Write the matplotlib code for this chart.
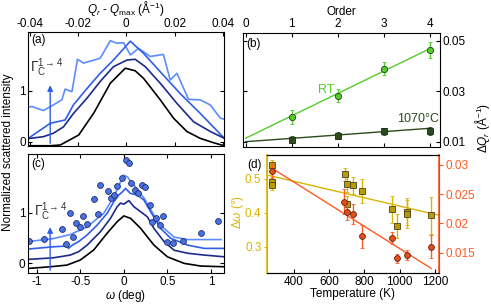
import matplotlib
matplotlib.use("Agg")
import matplotlib.pyplot as plt
import numpy as np

plt.rcParams['font.family'] = ['Liberation Sans', 'DejaVu Sans']
plt.rcParams['mathtext.fontset'] = 'custom'
plt.rcParams['mathtext.rm'] = 'Liberation Sans'
plt.rcParams['mathtext.it'] = 'Liberation Sans:italic'
plt.rcParams['font.size'] = 8.5

# ---- panel (a): rocking curves vs Qr - Qmax
qa_black = [-0.0405, -0.0315, -0.0273, -0.0197, -0.0135, -0.0066, -0.0004, 0.0037,
            0.0072, 0.0141, 0.0196, 0.0251, 0.0306, 0.0361, 0.0406]
ia_black = [-0.08, -0.08, -0.065, 0.13, 0.557, 1.145, 1.44, 1.39,
            1.24, 0.82, 0.46, 0.2, 0.066, -0.02, -0.08]
qa_navy = [-0.0405, -0.0343, -0.0302, -0.026, -0.0218, -0.0163, -0.0108, -0.0053,
           0.0003, 0.0037, 0.0079, 0.0141, 0.021, 0.0279, 0.0348, 0.0406]
ia_navy = [0.06, 0.098, 0.165, 0.29, 0.557, 0.85, 1.18, 1.47,
           1.6, 1.615, 1.47, 1.145, 0.75, 0.39, 0.2, 0.067]
qa_blue = [-0.0405, -0.0315, -0.0253, -0.0219, -0.0163, -0.0108, -0.0053, 0.0017,
           0.0072, 0.0141, 0.0224, 0.0306, 0.0406]
ia_blue = [0.067, 0.36, 0.425, 0.72, 1.04, 1.34, 1.60, 1.97,
           1.73, 1.37, 0.94, 0.557, 0.067]
qa_light = [-0.0405, -0.0391, -0.0343, -0.0302, -0.0267, -0.0253, -0.0225, -0.0202,
            -0.0177, -0.0108, -0.0066, -0.0039, -0.0011, 0.0017, 0.0051, 0.0099,
            0.0154, 0.0182, 0.021, 0.0258, 0.0306, 0.0348, 0.039, 0.0406]
ia_light = [0.675, 0.69, 0.61, 0.72, 0.818, 1.03, 0.98, 1.615,
            1.54, 1.635, 1.98, 1.93, 1.94, 1.70, 1.83, 1.67,
            1.71, 1.21, 1.34, 0.83, 0.82, 0.72, 0.46, 0.44]

# ---- panel (c): rocking curves vs omega
wc_black = [-1.096, -0.846, -0.653, -0.5, -0.346, -0.192, -0.076, 0.0, 0.077,
            0.193, 0.346, 0.5, 0.692, 0.885, 1.162]
ic_black = [-0.1, -0.067, -0.034, 0.066, 0.264, 0.595, 0.824, 0.937, 0.89,
            0.692, 0.36, 0.13, 0.0, -0.053, -0.067]
wc_navy = [-1.096, -0.808, -0.615, -0.519, -0.422, -0.269, -0.153, -0.076, -0.038,
           0.0, 0.058, 0.115, 0.193, 0.27, 0.346, 0.462, 0.577, 0.732, 0.923, 1.154]
ic_navy = [0.079, 0.11, 0.164, 0.23, 0.36, 0.624, 0.89, 1.12, 1.19,
           1.17, 1.24, 1.12, 1.02, 0.92, 0.69, 0.43, 0.26, 0.2, 0.164, 0.13]
wc_blue = [-1.096, -0.808, -0.653, -0.635, -0.592, -0.519, -0.422, -0.307, -0.192,
           -0.115, -0.058, -0.018, 0.02, 0.077, 0.155, 0.231, 0.308, 0.423, 0.539,
           0.732, 0.923, 1.154]
ic_blue = [0.283, 0.328, 0.342, 0.296, 0.36, 0.43, 0.56, 0.755, 0.988,
           1.217, 1.35, 1.41, 1.48, 1.38, 1.35, 1.25, 1.02, 0.69, 0.494,
           0.36, 0.296, 0.296]
wc_light = [-1.096, -0.808, -0.615, -0.422, -0.231, -0.115, -0.038, 0.0, 0.039,
            0.115, 0.231, 0.346, 0.462, 0.577, 0.732, 1.116]
ic_light = [0.43, 0.49, 0.57, 0.72, 0.988, 1.317, 1.61, 1.74, 1.71,
            1.55, 1.29, 0.95, 0.69, 0.52, 0.47, 0.47]
wc_dots = [-1.085, -0.911, -0.711, -0.661, -0.623, -0.584, -0.546, -0.508, -0.469,
           -0.423, -0.346, -0.3, -0.269, -0.185, -0.146, -0.108, -0.077, -0.019,
           0.02, 0.058, 0.085, 0.124, 0.162, 0.208, 0.247, 0.297, 0.327, 0.374,
           0.412, 0.45, 0.493, 0.57, 0.685, 0.885, 1.078]
ic_dots = [0.447, 0.487, 0.678, 0.388, 1.0, 0.514, 0.803, 0.724, 0.941,
           0.771, 1.27, 0.974, 1.547, 1.435, 1.30, 1.36, 1.528, 1.68,
           2.04, 1.976, 1.594, 1.449, 1.383, 1.547, 1.5, 1.146, 0.81, 0.895,
           0.763, 0.941, 0.415, 0.395, 0.447, 0.605, 0.836]

# ---- panel (b): width vs order
order = [1, 2, 3, 4]
dq_rt = [0.0197, 0.0282, 0.0389, 0.0463]
dq_rt_err = [0.0028, 0.0025, 0.0025, 0.003]
dq_hot = [0.0108, 0.0124, 0.0141, 0.0143]
dq_hot_err = [0.0015, 0.0015, 0.0015, 0.0017]
fit_order = [0, 4]
fit_rt = [0.0114, 0.0468]
fit_hot = [0.0100, 0.0153]

# ---- panel (d): widths vs temperature
temp_w = [277, 277, 277, 690, 703, 703, 737, 785, 955, 985, 1044, 1044, 1178]
dw = [0.539, 0.49, 0.482, 0.512, 0.485, 0.424, 0.48, 0.463, 0.41, 0.36, 0.403, 0.396, 0.392]
dw_err = [0.015, 0.015, 0.015, 0.02, 0.025, 0.025, 0.025, 0.035, 0.04, 0.035, 0.04, 0.04, 0.055]
temp_q = [277, 686, 701, 737, 785, 955, 985, 1044, 1178]
dqt = [0.0289, 0.0237, 0.022, 0.0216, 0.0178, 0.0175, 0.014, 0.0146, 0.016]
dqt_err = [0.0012, 0.0021, 0.0015, 0.0017, 0.002, 0.001, 0.0008, 0.0008, 0.002]
fit_tw = [250, 1225]
fit_dw = [0.51, 0.392]
fit_tq = [277, 1178]
fit_dq = [0.0294, 0.0123]

c_black, c_navy, c_blue, c_light = 'black', '#1c2a8c', '#2f5ee8', '#5d8cff'
c_green, c_dkgreen = '#55cc2e', '#2b4a1d'
c_yellow, c_orange = '#d9b400', '#ff5a22'

W, H = 491, 305
fig = plt.figure(figsize=(W / 100, H / 100), dpi=100)


def rect(x0, y0, x1, y1):
    return [x0 / W, 1 - y1 / H, (x1 - x0) / W, (y1 - y0) / H]


ax_a = fig.add_axes(rect(28, 32, 224, 146))
ax_c = fig.add_axes(rect(28, 154, 224, 273))
ax_b = fig.add_axes(rect(243, 33, 440, 147))
ax_d = fig.add_axes(rect(267, 155, 439, 273))

# (a)
for q, i, c in [(qa_light, ia_light, c_light), (qa_blue, ia_blue, c_blue),
                (qa_navy, ia_navy, c_navy), (qa_black, ia_black, c_black)]:
    ax_a.plot(q, i, color=c, lw=1.2)
ax_a.set_xlim(-0.0407, 0.0405)
ax_a.set_ylim(-0.085, 2.15)
ax_a.set_xticks([-0.04, -0.02, 0, 0.02, 0.04])
ax_a.set_xticklabels(['-0.04', '-0.02', '0', '0.02', '0.04'])
ax_a.set_yticks([0, 1])
ax_a.tick_params(direction='in', top=True, right=True, labeltop=True, labelbottom=False,
                 length=3, pad=1.5)
fig.text(126 / W, 1 - 9 / H, r'$Q_r$ - $Q_\mathrm{max}$ (Å$^{-1}$)', ha='center', va='center')
ax_a.annotate('', xy=(-0.0315, 1.16), xytext=(-0.0315, -0.085),
              arrowprops=dict(arrowstyle='-|>', color=c_blue, lw=1, mutation_scale=8))
ax_a.text(-0.0332, 1.22, r'$\Gamma_\mathrm{C}^{1\rightarrow4}$', color='#333333',
          fontsize=10, ha='center', va='bottom')
ax_a.text(0.015, 0.93, '(a)', transform=ax_a.transAxes, va='center')

# (c)
for w, i, c in [(wc_light, ic_light, c_light), (wc_blue, ic_blue, c_blue),
                (wc_navy, ic_navy, c_navy), (wc_black, ic_black, c_black)]:
    ax_c.plot(w, i, color=c, lw=1.2)
ax_c.plot(wc_dots, ic_dots, 'o', ms=4.2, mfc='#4a72e0', mec='#1b2d70', mew=0.6)
ax_c.set_xlim(-1.1, 1.15)
ax_c.set_ylim(-0.19, 2.16)
ax_c.set_xticks([-1, -0.5, 0, 0.5, 1])
ax_c.set_xticklabels(['-1', '-0.5', '0', '0.5', '1'])
ax_c.set_yticks([0, 1])
ax_c.tick_params(direction='in', top=True, right=True, length=3, pad=2)
ax_c.set_xlabel(r'$\omega$ (deg)', labelpad=0)
ax_c.annotate('', xy=(-0.846, 0.77), xytext=(-0.846, -0.19),
              arrowprops=dict(arrowstyle='-|>', color=c_blue, lw=1, mutation_scale=8))
ax_c.text(-0.84, 0.8, r'$\Gamma_\mathrm{C}^{1\rightarrow4}$', color='#333333',
          fontsize=10, ha='center', va='bottom')
ax_c.text(0.015, 0.92, '(c)', transform=ax_c.transAxes, va='center')

fig.text(8 / W, 1 - 152 / H, 'Normalized scattered intensity', rotation=90,
         ha='center', va='center')

# (b)
ax_b.plot(fit_order, fit_rt, color=c_green, lw=1)
ax_b.plot(fit_order, fit_hot, color=c_dkgreen, lw=1)
ax_b.errorbar(order, dq_rt, yerr=dq_rt_err, fmt='o', ms=4.5, mfc=c_green, mec='#24401a',
              mew=0.6, ecolor=c_green, elinewidth=1, capsize=1.5)
ax_b.errorbar(order, dq_hot, yerr=dq_hot_err, fmt='s', ms=4.2, mfc=c_dkgreen, mec='#1a2a12',
              mew=0.6, ecolor=c_dkgreen, elinewidth=1, capsize=1.5)
ax_b.set_xlim(-0.06, 4.22)
ax_b.set_ylim(0.0079, 0.053)
ax_b.set_xticks([0, 1, 2, 3, 4])
ax_b.set_yticks([0.01, 0.03, 0.05])
ax_b.set_yticklabels(['0.01', '0.03', '0.05'])
ax_b.tick_params(direction='in', top=True, bottom=True, left=True, right=True,
                 labeltop=True, labelbottom=False, labelleft=False, labelright=True,
                 length=3, pad=2)
ax_b.xaxis.set_label_position('top')
ax_b.set_xlabel('Order', labelpad=2)
ax_b.text(1.75, 0.0305, 'RT', color=c_green, ha='center', va='center', fontsize=9)
ax_b.text(3.75, 0.0189, '1070°C', color=c_dkgreen, ha='center', va='center', fontsize=9)
ax_b.text(0.015, 0.9, '(b)', transform=ax_b.transAxes, va='center')

fig.text(482 / W, 1 - 128 / H, r'$\Delta Q_r$ (Å$^{-1}$)', rotation=90,
         ha='center', va='center')

# (d)
ax_d2 = ax_d.twinx()
ax_d.plot(fit_tw, fit_dw, color=c_yellow, lw=1)
ax_d.errorbar(temp_w, dw, yerr=dw_err, fmt='s', ms=4.2, mfc='#b89b00', mec='#4a4020',
              mew=0.6, ecolor=c_yellow, elinewidth=1, capsize=1.5)
ax_d2.plot(fit_tq, fit_dq, color=c_orange, lw=1)
ax_d2.errorbar(temp_q, dqt, yerr=dqt_err, fmt='o', ms=4.2, mfc='#e84e1a', mec='#5a2010',
               mew=0.6, ecolor=c_orange, elinewidth=1, capsize=1.5)
ax_d.set_xlim(247, 1223)
ax_d.set_ylim(0.223, 0.569)
ax_d2.set_ylim(0.0115, 0.0317)
ax_d.set_xticks([400, 600, 800, 1000, 1200])
ax_d.set_yticks([0.3, 0.4, 0.5])
ax_d2.set_yticks([0.015, 0.02, 0.025, 0.03])
ax_d2.set_yticklabels(['0.015', '0.02', '0.025', '0.03'])
ax_d.tick_params(axis='x', direction='in', length=3, pad=2)
ax_d.tick_params(axis='y', direction='out', length=2, colors=c_yellow, pad=2)
ax_d2.tick_params(axis='y', direction='out', length=3, colors=c_orange, pad=2)
ax_d.spines['left'].set_color(c_yellow)
ax_d2.spines['left'].set_color(c_yellow)
ax_d2.spines['right'].set_color(c_orange)
ax_d2.spines['right'].set_linewidth(1.2)
ax_d2.spines['left'].set_linewidth(1.2)
ax_d.set_xlabel('Temperature (K)', labelpad=0)
fig.text(238 / W, 1 - 212 / H, r'$\Delta\omega$ (°)', rotation=90, color=c_yellow,
         ha='center', va='center')
fig.text(254 / W, 1 - 165 / H, '(d)', ha='center', va='center')

fig.savefig('out.png', dpi=100)
